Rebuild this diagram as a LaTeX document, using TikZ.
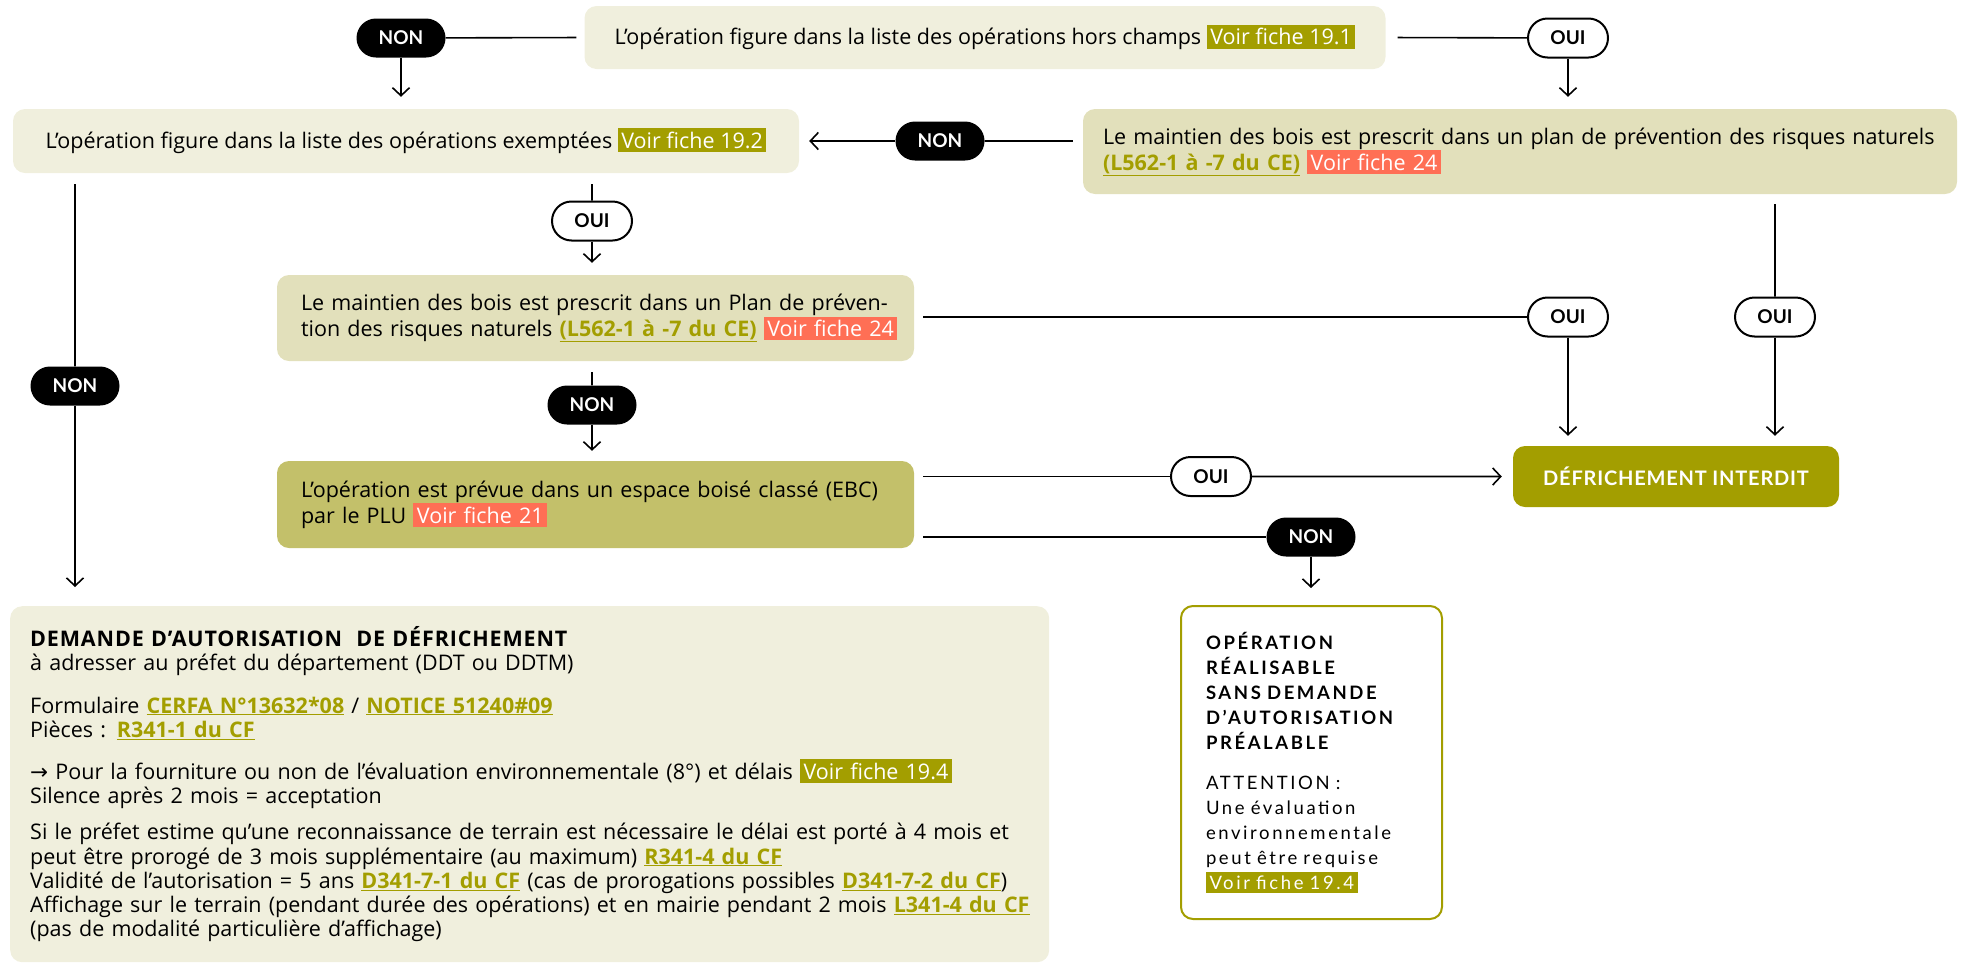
\documentclass[tikz,border=0pt]{standalone}
\usepackage{fontspec}
\setmainfont{Open Sans}
\newfontfamily\latofont{Lato}
\newfontfamily\widefont[LetterSpace=14]{Lato}
\newfontfamily\capsfont[LetterSpace=4]{Lato}
\newfontfamily\headfont[LetterSpace=4]{Open Sans}
\newfontfamily\symfont{DejaVu Sans}
\usetikzlibrary{arrows.meta,shapes.misc}
\definecolor{cream}{HTML}{F0EFDD}
\definecolor{khaki}{HTML}{E2E0BB}
\definecolor{ebcgreen}{HTML}{C3C06A}
\definecolor{olive}{HTML}{A39E00}
\definecolor{coral}{HTML}{FF6F55}
\newcommand{\tago}[1]{{\setlength{\fboxsep}{3.5pt}\colorbox{olive}{\color{white}#1}}}
\newcommand{\tagr}[1]{{\setlength{\fboxsep}{3.5pt}\colorbox{coral}{\color{white}#1}}}
\newcommand{\lnk}[1]{{\color{olive}\bfseries\underline{#1}}}
\begin{document}
\begin{tikzpicture}[x=1pt,y=-1pt,
  every node/.style={font=\fontsize{21.5}{26}\selectfont},
  box/.style={rounded corners=12pt, inner sep=0pt},
  ln/.style={line width=1.6pt},
  arr/.style={line width=1.6pt, -{Straight Barb[length=8pt,width=17pt,line width=1.6pt]}},
  pill/.style={rounded rectangle, minimum height=39pt, inner sep=0pt, font=\latofont\fontsize{19}{19}\selectfont\bfseries},
  non/.style={pill, fill=black, text=white, minimum width=89pt},
  oui/.style={pill, draw=black, line width=2pt, fill=white, text=black, minimum width=80pt},
]
\useasboundingbox (0,0) rectangle (1966,967);

% boxes
\node[box, fill=cream, minimum width=801pt, minimum height=63pt] (top) at (985,37.5)
  {L’opération figure dans la liste des opérations hors champs \tago{Voir fiche 19.1}};
\node[box, fill=cream, minimum width=786pt, minimum height=64pt] (exempt) at (406,141)
  {L’opération figure dans la liste des opérations exemptées \tago{Voir fiche 19.2}};
\node[box, fill=khaki, minimum width=874pt, minimum height=85pt, text width=834pt, align=left] (ppr1) at (1520,151.5)
  {\mbox{Le maintien des bois est prescrit dans un plan de prévention des risques naturels}\\
   \lnk{(L562-1 à -7 du CE)} \tagr{Voir fiche 24}};
\node[box, fill=khaki, minimum width=637pt, minimum height=86pt, text width=589pt, align=left] (ppr2) at (595.5,318)
  {\mbox{Le maintien des bois est prescrit dans un Plan de préven-}\\
   \mbox{tion des risques naturels \lnk{(L562-1 à -7 du CE)} \tagr{Voir fiche 24}}};
\node[box, fill=ebcgreen, minimum width=637pt, minimum height=87pt, text width=589pt, align=left] (ebc) at (595.5,504.5)
  {\mbox{L’opération est prévue dans un espace boisé classé (EBC)}\\
   par le PLU \tagr{Voir fiche 21}};
\node[box, fill=olive, text=white, minimum width=326pt, minimum height=61pt,
  font=\capsfont\fontsize{20}{24}\selectfont\bfseries] (interdit) at (1676,476.5) {DÉFRICHEMENT INTERDIT};
\node[box, draw=olive, line width=2pt, fill=white, minimum width=261pt, minimum height=313pt,
  text width=211pt, align=left, font=\widefont\fontsize{18.5}{25}\selectfont] (real) at (1311.5,762.5)
  {\textbf{OPÉRATION\\ RÉALISABLE\\ SANS DEMANDE\\ D’AUTORISATION\\ PRÉALABLE}\\[15pt]
   ATTENTION :\\ Une évaluation\\ environnementale\\ peut être requise\\ \tago{Voir fiche 19.4}};
\node[box, fill=cream, anchor=north west, minimum width=1039pt, minimum height=356pt,
  text width=999pt, align=left, font=\fontsize{21.5}{24.2}\selectfont] (big) at (10,606)
  {{\headfont\bfseries DEMANDE D’AUTORISATION\ \ DE DÉFRICHEMENT}\\
   à adresser au préfet du département (DDT ou DDTM)\\[18pt]
   Formulaire \lnk{CERFA N°13632*08} / \lnk{NOTICE 51240\#09}\\
   Pièces : \lnk{R341-1 du CF}\\[18pt]
   \mbox{{\symfont →} Pour la fourniture ou non de l’évaluation environnementale (8°) et délais \tago{Voir fiche 19.4}}\\
   Silence après 2 mois = acceptation\\[12pt]
   \mbox{Si le préfet estime qu’une reconnaissance de terrain est nécessaire le délai est porté à 4 mois et}\\
   \mbox{peut être prorogé de 3 mois supplémentaire (au maximum) \lnk{R341-4 du CF}}\\
   \mbox{Validité de l’autorisation = 5 ans \lnk{D341-7-1 du CF} (cas de prorogations possibles \lnk{D341-7-2 du CF})}\\
   \mbox{Affichage sur le terrain (pendant durée des opérations) et en mairie pendant 2 mois \lnk{L341-4 du CF}}\\
   (pas de modalité particulière d’affichage)};

% pills
\node[non] (non1) at (401,38) {NON};
\node[oui] (oui1) at (1568,38) {OUI};
\node[non] (non2) at (940,141) {NON};
\node[non] (non3) at (75,386) {NON};
\node[oui] (oui2) at (592,221) {OUI};
\node[oui] (oui3) at (1568,317) {OUI};
\node[oui] (oui4) at (1775,317) {OUI};
\node[non] (non4) at (592,405) {NON};
\node[oui] (oui5) at (1211,476.5) {OUI};
\node[non] (non5) at (1311,537) {NON};

% connectors
\draw[ln, shorten <=8pt] (top.west) -- (non1);
\draw[arr, shorten >=12pt] (non1.south) -- (non1.south |- exempt.north);
\draw[ln, shorten <=12pt] (top.east) -- (oui1);
\draw[arr, shorten >=12pt] (oui1.south) -- (oui1.south |- ppr1.north);

\draw[ln, shorten <=10pt] (ppr1.west |- non2) -- (non2);
\draw[arr, shorten >=10pt] (non2) -- (exempt);

\draw[ln, shorten <=11pt] (non3 |- exempt.south) -- (non3);
\draw[arr, shorten >=19pt] (non3.south) -- (non3 |- big.north);

\draw[ln, shorten <=11pt] (oui2 |- exempt.south) -- (oui2);
\draw[arr, shorten >=12pt] (oui2.south) -- (oui2 |- ppr2.north);

\draw[ln, shorten <=9pt] (ppr2.east |- oui3) -- (oui3);
\draw[arr, shorten >=10pt] (oui3.south) -- (oui3 |- interdit.north);
\draw[ln, shorten <=10pt] (oui4 |- ppr1.south) -- (oui4);
\draw[arr, shorten >=10pt] (oui4.south) -- (oui4 |- interdit.north);

\draw[ln, shorten <=11pt] (non4 |- ppr2.south) -- (non4);
\draw[arr, shorten >=10pt] (non4.south) -- (non4 |- ebc.north);

\draw[ln, shorten <=9pt] (ebc.east |- oui5) -- (oui5);
\draw[arr, shorten >=11pt] (oui5) -- (interdit);
\draw[ln, shorten <=9pt] (ebc.east |- non5) -- (non5);
\draw[arr, shorten >=17pt] (non5.south) -- (non5 |- real.north);
\end{tikzpicture}
\end{document}
